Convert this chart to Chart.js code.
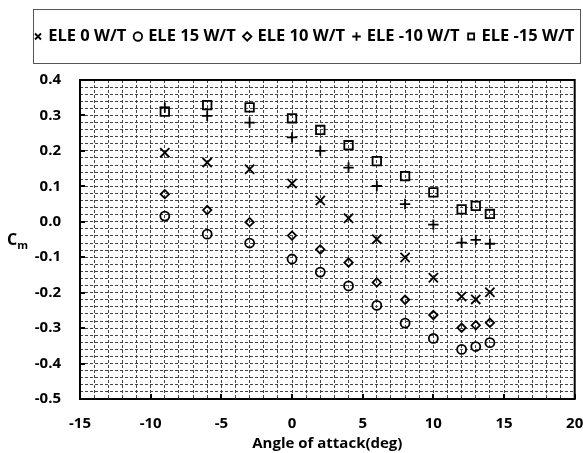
<!DOCTYPE html>
<html><head><meta charset="utf-8">
<script src="https://cdn.jsdelivr.net/npm/chart.js@4"></script>
<style>html,body{margin:0;padding:0;background:#fff}canvas{display:block}</style>
</head><body>
<canvas id="c" width="583" height="453"></canvas>
<script>
// ---- data ----
const angles = [-9, -6, -3, 0, 2, 4, 6, 8, 10, 12, 13, 14];
const ele0   = [0.195, 0.167, 0.148, 0.108, 0.060, 0.010, -0.049, -0.101, -0.158, -0.211, -0.219, -0.199];
const ele15  = [0.016, -0.035, -0.060, -0.105, -0.142, -0.181, -0.236, -0.286, -0.329, -0.360, -0.352, -0.341];
const ele10  = [0.078, 0.033, -0.001, -0.039, -0.078, -0.115, -0.171, -0.220, -0.263, -0.299, -0.292, -0.285];
const eleM10 = [0.322, 0.299, 0.280, 0.238, 0.200, 0.153, 0.101, 0.050, -0.008, -0.059, -0.051, -0.062];
const eleM15 = [0.311, 0.329, 0.323, 0.292, 0.259, 0.216, 0.171, 0.129, 0.083, 0.035, 0.045, 0.022];
const seriesNames = ['ELE 0 W/T', 'ELE 15 W/T', 'ELE 10 W/T', 'ELE -10 W/T', 'ELE -15 W/T'];
const xTickLabels = ['-15', '-10', '-5', '0', '5', '10', '15', '20'];
const yTickLabels = ['0.4', '0.3', '0.2', '0.1', '0.0', '-0.1', '-0.2', '-0.3', '-0.4', '-0.5'];
const xTitle = 'Angle of attack(deg)';
const yTitleMain = 'C';
const yTitleSub = 'm';

const FONT = '"Open Sans", "Liberation Sans", sans-serif';
const pts = ys => angles.map((a, i) => ({x: a, y: ys[i]}));
const styles = [
  {pointStyle: 'crossRot', r: 6.5},
  {pointStyle: 'circle', r: 4.5},
  {pointStyle: 'rectRot', r: 4.2},
  {pointStyle: 'cross', r: 5.2},
  {pointStyle: 'rect', r: 6}
];
const seriesData = [ele0, ele15, ele10, eleM10, eleM15];
const datasets = seriesData.map((d, i) => ({
  label: seriesNames[i],
  data: pts(d),
  showLine: false,
  pointStyle: styles[i].pointStyle,
  pointRadius: styles[i].r,
  pointHoverRadius: styles[i].r,
  borderColor: '#000',
  backgroundColor: 'rgba(0,0,0,0)',
  pointBackgroundColor: 'rgba(0,0,0,0)',
  borderWidth: 1.8
}));

const labelFor = (list, v) => {
  const f = list.find(l => Math.abs(parseFloat(l) - v) < 1e-6);
  return f === undefined ? '' : f;
};

const decor = {
  id: 'decor',
  afterInit(chart) {
    const lg = chart.legend;
    if (lg && !lg._wideFit) {
      const orig = lg.update.bind(lg);
      lg.update = function (maxWidth, maxHeight, margins) { orig(2000, maxHeight, margins); };
      lg._wideFit = true;
    }
  },
  afterLayout(chart) {
    const lg = chart.legend;
    lg.left = 26.5; lg.right = 1000; lg.width = 973.5;
    lg.top = 18.75;
  },
  beforeDatasetsDraw(chart) {
    const ctx = chart.ctx, a = chart.chartArea;
    const xs = chart.scales.x, ys = chart.scales.y;
    ctx.save();
    ctx.strokeStyle = '#000'; ctx.lineWidth = 2;
    ctx.beginPath();
    xTickLabels.forEach(l => {
      const px = Math.round(xs.getPixelForValue(parseFloat(l)));
      ctx.moveTo(px, a.bottom); ctx.lineTo(px, a.bottom - 5);
    });
    yTickLabels.forEach(l => {
      const py = Math.round(ys.getPixelForValue(parseFloat(l)));
      ctx.moveTo(a.left, py); ctx.lineTo(a.left + 5, py);
    });
    ctx.stroke();
    ctx.restore();
  },
  afterDraw(chart) {
    const ctx = chart.ctx, a = chart.chartArea;
    ctx.save();
    ctx.strokeStyle = '#000'; ctx.lineWidth = 2;
    ctx.strokeRect(a.left, a.top, a.right - a.left, a.bottom - a.top);
    ctx.strokeStyle = '#555'; ctx.lineWidth = 1;
    ctx.strokeRect(33.5, 9.5, 547, 54);
    ctx.fillStyle = '#000';
    ctx.textBaseline = 'middle'; ctx.textAlign = 'left';
    ctx.font = 'bold 16px ' + FONT;
    ctx.fillText(yTitleMain, 7, 240);
    const w = ctx.measureText(yTitleMain).width;
    ctx.font = 'bold 11px ' + FONT;
    ctx.fillText(yTitleSub, 7 + w, 246);
    ctx.restore();
  }
};

new Chart(document.getElementById('c'), {
  type: 'scatter',
  data: {datasets},
  options: {
    responsive: false,
    animation: false,
    devicePixelRatio: 1,
    layout: {padding: {left: 0, right: 7, top: 44, bottom: 0}},
    plugins: {
      legend: {
        position: 'top',
        align: 'start',
        labels: {
          usePointStyle: true,
          boxWidth: 4, boxHeight: 6,
          padding: 9.5,
          color: '#000',
          font: {family: FONT, size: 16.5, weight: 'bold'}
        }
      },
      tooltip: {enabled: false}
    },
    scales: {
      x: {
        type: 'linear', min: -15, max: 20,
        ticks: {
          stepSize: 1, autoSkip: false, maxRotation: 0, padding: 16, color: '#000',
          font: {family: FONT, size: 15, weight: 'bold'},
          callback: v => labelFor(xTickLabels, v)
        },
        grid: {color: '#444', lineWidth: 1, drawTicks: false},
        border: {display: false, dash: [3, 2]},
        title: {display: true, text: xTitle, color: '#000',
          font: {family: FONT, size: 15, weight: 'bold', lineHeight: 1.2}, padding: {top: 0, bottom: 0}},
        afterFit(s) { s.height = 54; s.paddingLeft = 0; s.paddingRight = 0; }
      },
      y: {
        type: 'linear', min: -0.5, max: 0.4,
        ticks: {
          stepSize: 0.02, autoSkip: false, padding: 19, color: '#000',
          font: {family: FONT, size: 15, weight: 'bold'},
          callback: v => labelFor(yTickLabels, v)
        },
        grid: {color: '#444', lineWidth: 1, drawTicks: false},
        border: {display: false, dash: [3, 2]},
        title: {display: false},
        afterFit(s) { s.width = 80; s.paddingTop = 0; s.paddingBottom = 0; }
      }
    }
  },
  plugins: [decor]
});
</script>
</body></html>
